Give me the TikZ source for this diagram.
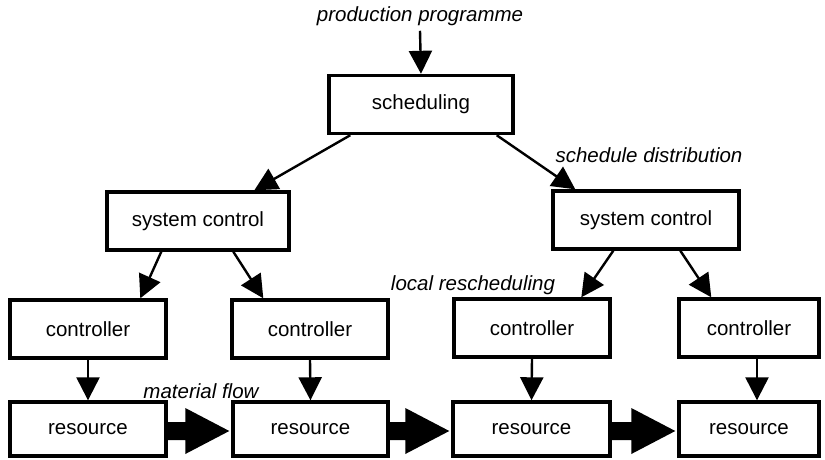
\documentclass[tikz,border=0pt]{standalone}
\usepackage{fontspec}
\setmainfont{Liberation Sans}
\usetikzlibrary{arrows.meta,calc}
\newcommand\flowarr[2]{\fill ($(#1.east)+(0,-7)$) -- ($(#2.west)+(-46,-7)$) -- ($(#2.west)+(-46,-21)$) -- ($(#2.west)+(-2,2)$) -- ($(#2.west)+(-46,25)$) -- ($(#2.west)+(-46,11)$) -- ($(#1.east)+(0,11)$) -- cycle;}
\begin{document}
\begin{tikzpicture}[x=1pt,y=-1pt,
 box/.style={draw,line width=3.4pt,minimum width=#1,minimum height=58pt,inner sep=0pt,font=\fontsize{20.5}{24}\selectfont},
 lbl/.style={font=\fontsize{20.5}{24}\selectfont\itshape,inner sep=0pt},
 arr/.style={line width=2.4pt,-{Triangle[width=23pt,length=23pt]}}]
\useasboundingbox (0,0) rectangle (825,459);
\node[box=184pt] (sched) at (421,104.5) {scheduling};
\node[box=182pt] (sysL) at (198,221) {system control};
\node[box=186pt] (sysR) at (646,220) {system control};
\node[box=156pt] (c1) at (88,329) {controller};
\node[box=156pt] (c2) at (310,329) {controller};
\node[box=156pt] (c3) at (532,328) {controller};
\node[box=140pt] (c4) at (749,328) {controller};
\node[box=156pt,minimum height=54pt] (r1) at (88,429) {resource};
\node[box=155pt,minimum height=54pt] (r2) at (310.5,429) {resource};
\node[box=157pt,minimum height=54pt] (r3) at (531.5,429) {resource};
\node[box=140pt,minimum height=54pt] (r4) at (749,429) {resource};
\node[lbl] (pp) at (420,16) {production programme};
\node[lbl] (sd) at (649,155) {schedule distribution};
\node[lbl] (lr) at (473,285) {local rescheduling};
\node[lbl] (mf) at (201,391) {material flow};
\draw[arr] ([yshift=-5]pp.south) -- (sched.north);
\draw[arr] ([xshift=23]sched.south west) -- ([xshift=149]sysL.north west);
\draw[arr] ([xshift=-18]sched.south east) -- ([xshift=24]sysR.north west);
\draw[arr] ([xshift=56]sysL.south west) -- ([xshift=132]c1.north west);
\draw[arr] ([xshift=128]sysL.south west) -- ([xshift=33]c2.north west);
\draw[arr] ([xshift=62]sysR.south west) -- ([xshift=129]c3.north west);
\draw[arr] ([xshift=129]sysR.south west) -- ([xshift=34]c4.north west);
\draw[arr] (c1.south) -- (r1.north);
\draw[arr] (c2.south) -- (r2.north);
\draw[arr] (c3.south) -- (r3.north);
\draw[arr] ([xshift=8]c4.south) -- ([xshift=8]r4.north);
\flowarr{r1}{r2}
\flowarr{r2}{r3}
\flowarr{r3}{r4}
\end{tikzpicture}
\end{document}
